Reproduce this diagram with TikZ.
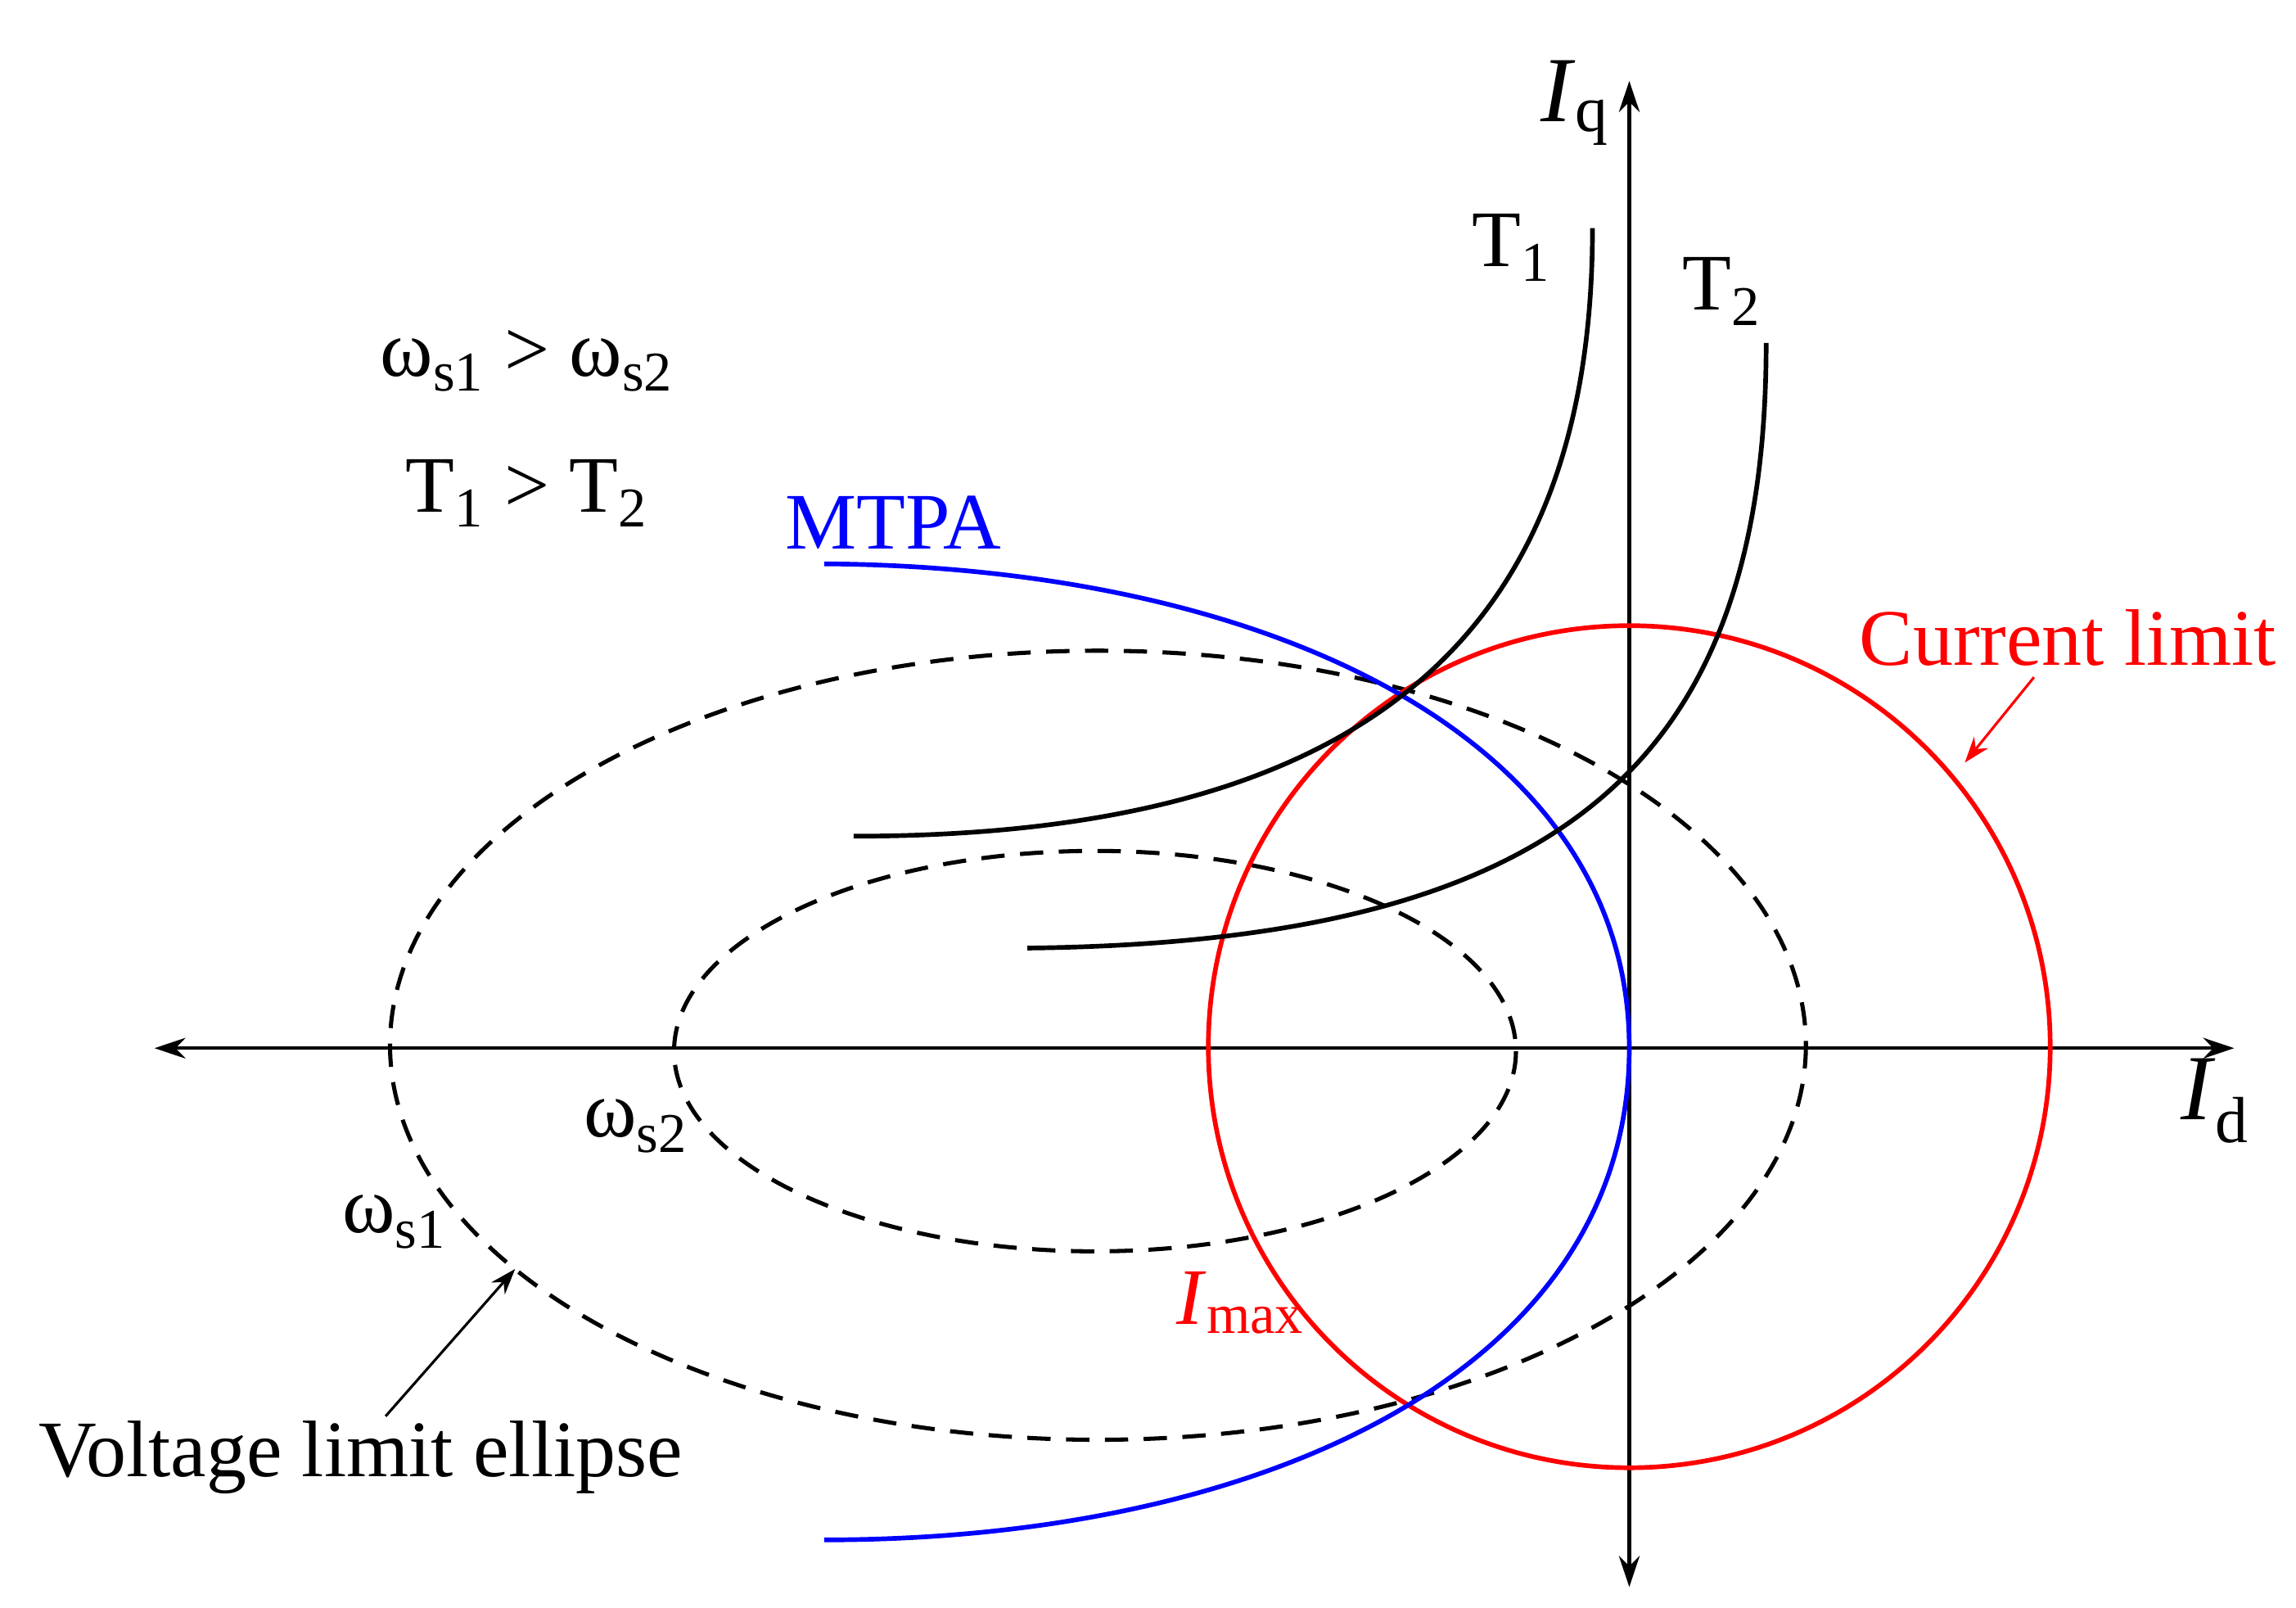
\documentclass[tikz,border=0pt]{standalone}
\usepackage{fontspec}
\setmainfont{Liberation Serif}
\usetikzlibrary{arrows.meta}
\begin{document}
\begin{tikzpicture}[x=0.02cm,y=-0.02cm,
  lbl/.style={font=\fontsize{31}{36}\selectfont,inner sep=0pt},
  ax/.style={line width=1.4pt,{Stealth[length=12pt,width=8pt]}-{Stealth[length=12pt,width=8pt]}},
  dsh/.style={line width=1.6pt,dash pattern=on 9pt off 6pt},
  cur/.style={line width=1.8pt},
  ptr/.style={line width=1pt,-{Stealth[length=10pt,width=7pt]}}]
\useasboundingbox (0,0) rectangle (1560,1092);
\coordinate (xl) at (105,712); \coordinate (xr) at (1518,712);
\coordinate (yt) at (1107,55); \coordinate (yb) at (1107,1078);
\draw[ax] (xl) -- (xr);
\draw[ax] (yb) -- (yt);
\node[lbl] (iq) at (1070,70) {\fontsize{36}{40}\selectfont\textit{I}\textsubscript{q}};
\node[lbl] (id) at (1505,748) {\fontsize{36}{40}\selectfont\textit{I}\textsubscript{d}};
% voltage ellipses
\draw[dsh] (746,710) ellipse [x radius=481, y radius=268];
\draw[dsh] (744,714) ellipse [x radius=286, y radius=136];
% current limit
\draw[cur,red] (1107,711) circle [radius=286];
% MTPA
\draw[cur,blue] (560,383) .. controls (860,385) and (1107,500) .. (1107,712)
  .. controls (1107,930) and (860,1046) .. (560,1046);
% torque curves
\draw[cur] (580,568) .. controls (930,568) and (1082,430) .. (1082,155);
\draw[cur] (698,644) .. controls (1060,640) and (1200,520) .. (1200,233);
% labels
\node[lbl] (t1) at (1027,168) {T\textsubscript{1}};
\node[lbl] (t2) at (1170,198) {T\textsubscript{2}};
\node[lbl] (w) at (358,245) {ω\textsubscript{s1} > ω\textsubscript{s2}};
\node[lbl] (t) at (358,335) {T\textsubscript{1} > T\textsubscript{2}};
\node[lbl,blue] (mtpa) at (607,355) {MTPA};
\node[lbl,red] (cl) at (1405,433) {Current limit};
\coordinate (clp) at (1335,518);
\draw[ptr,red] (1382,460) -- (clp);
\node[lbl,red] (imax) at (843,885) {\textit{I}\textsubscript{max}};
\node[lbl] (ws2) at (432,765) {ω\textsubscript{s2}};
\node[lbl] (ws1) at (268,830) {ω\textsubscript{s1}};
\node[lbl] (vle) at (245,990) {Voltage limit ellipse};
\coordinate (vp) at (350,862);
\draw[ptr] (262,962) -- (vp);
\end{tikzpicture}
\end{document}
